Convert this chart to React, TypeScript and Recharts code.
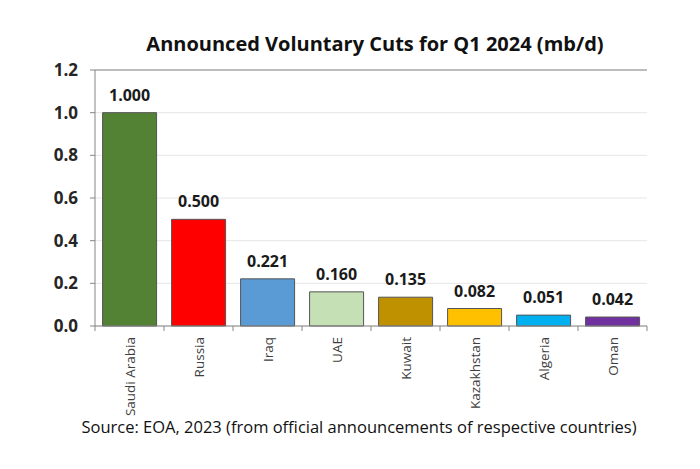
import { BarChart, Bar, XAxis, YAxis, CartesianGrid, Cell, LabelList, ReferenceLine } from 'recharts';

const countries = ['Saudi Arabia', 'Russia', 'Iraq', 'UAE', 'Kuwait', 'Kazakhstan', 'Algeria', 'Oman'];
const cuts = [1.0, 0.5, 0.221, 0.16, 0.135, 0.082, 0.051, 0.042];
const barColors = ['#548235', '#ff0000', '#5b9bd5', '#c5e0b4', '#bf9000', '#ffc000', '#00b0f0', '#7030a0'];
const yTicks = [0, 0.2, 0.4, 0.6, 0.8, 1.0, 1.2];

const data = countries.map((name, i) => ({ name, value: cuts[i] }));

const FONT = "'Open Sans', 'Noto Sans', sans-serif";
const W = 700;
const H = 469;
const LEFT = 95;
const RIGHT = 53;
const BAND = (W - LEFT - RIGHT) / countries.length;

function CountryTick(props: any) {
  const { x, y, payload, index } = props;
  const last = index === countries.length - 1;
  return (
    <g>
      <line x1={x - BAND / 2} x2={x - BAND / 2} y1={y - 8} y2={y - 3} stroke="#868686" />
      {last && <line x1={x + BAND / 2} x2={x + BAND / 2} y1={y - 8} y2={y - 3} stroke="#868686" />}
      <text
        x={0}
        y={0}
        transform={`translate(${x + 5},${y + 3}) rotate(-90)`}
        textAnchor="end"
        fontSize={13.5}
        fill="#404040"
        fontFamily={FONT}
      >
        {payload.value}
      </text>
    </g>
  );
}

export default function App() {
  return (
    <div style={{ position: 'fixed', left: 0, top: 0, width: W, height: H, background: '#fff' }}>
      <div
        style={{
          position: 'absolute', left: 0, top: 30, width: W, textAlign: 'center',
          fontFamily: FONT, fontWeight: 700, fontSize: 20, color: '#111',
          paddingLeft: 50,
          boxSizing: 'border-box',
        }}
      >
        Announced Voluntary Cuts for Q1 2024 (mb/d)
      </div>
      <BarChart
        width={W}
        height={H}
        data={data}
        margin={{ top: 70, right: RIGHT, left: 0, bottom: 63 }}
        barCategoryGap="11%"
      >
        <CartesianGrid vertical={false} stroke="#e6e6e6" />
        <XAxis
          dataKey="name"
          interval={0}
          height={80}
          axisLine={{ stroke: '#868686' }}
          tickLine={false}
          tick={<CountryTick />}
        />
        <YAxis
          domain={[0, 1.2]}
          ticks={yTicks}
          width={LEFT}
          axisLine={{ stroke: '#868686' }}
          tickLine={{ stroke: '#868686' }}
          tickSize={5}
          tickMargin={12}
          tickFormatter={(v: number) => v.toFixed(1)}
          tick={{ fontSize: 17, fontWeight: 700, fill: '#262626', fontFamily: FONT }}
        />
        <YAxis
          yAxisId="right"
          orientation="right"
          domain={[0, 1.2]}
          width={0}
          tick={false}
          tickLine={false}
          axisLine={{ stroke: '#868686' }}
        />
        <ReferenceLine y={1.2} stroke="#868686" />
        <Bar dataKey="value" stroke="#555" strokeWidth={1} isAnimationActive={false}>
          {data.map((d, i) => (
            <Cell key={d.name} fill={barColors[i]} />
          ))}
          <LabelList
            dataKey="value"
            position="top"
            offset={12}
            formatter={(v: any) => Number(v).toFixed(3)}
            style={{ fontSize: 16, fontWeight: 700, fill: '#1a1a1a', fontFamily: FONT }}
          />
        </Bar>
      </BarChart>
      <div
        style={{
          position: 'absolute', left: 0, top: 415, width: W, textAlign: 'center',
          fontFamily: FONT, fontSize: 16.5, color: '#111',
          paddingLeft: 18, boxSizing: 'border-box',
        }}
      >
        Source: EOA, 2023 (from official announcements of respective countries)
      </div>
    </div>
  );
}
